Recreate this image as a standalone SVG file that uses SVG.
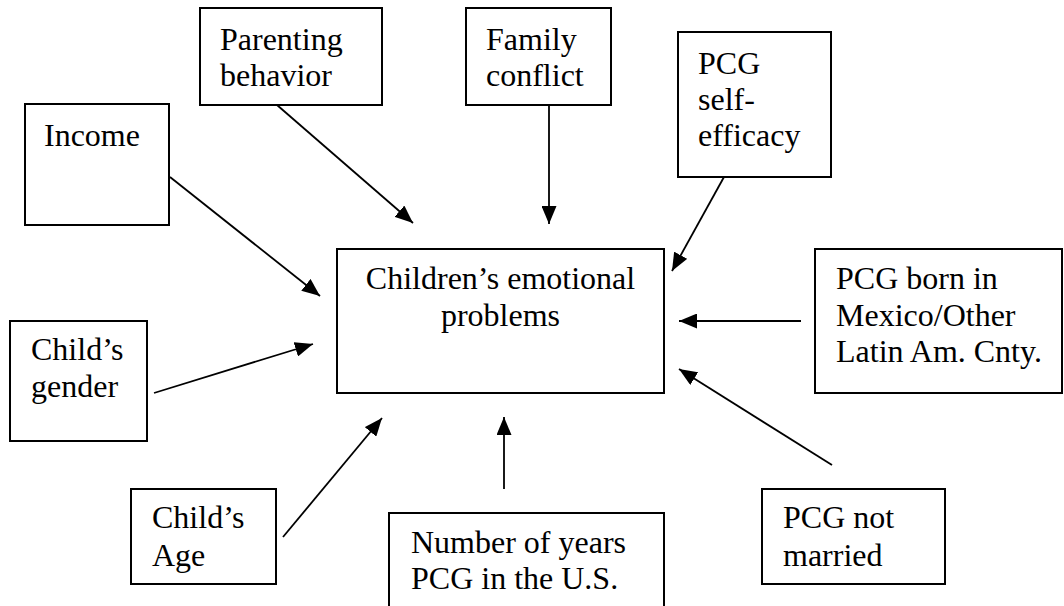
<svg xmlns="http://www.w3.org/2000/svg" width="1064" height="606" viewBox="0 0 1064 606">
<style>
.box{fill:#fff;stroke:#000;stroke-width:2}
.t{font-family:"Liberation Serif","Times New Roman",serif;font-size:32px;fill:#000}
.c{text-anchor:middle}
.edge{stroke:#000;stroke-width:1.8;fill:none;marker-end:url(#ah)}
</style>
<defs>
<marker id="ah" viewBox="0 0 18 15" refX="18" refY="7.5" markerWidth="18" markerHeight="15" markerUnits="userSpaceOnUse" orient="auto">
<path d="M0,0 L18,7.5 L0,15 z" fill="#000"/>
</marker>
</defs>
<rect width="1064" height="606" fill="#fff"/>
<g id="parenting">
<rect class="box" x="200" y="8" width="182" height="97"/>
<text class="t" x="220" y="50">Parenting</text>
<text class="t" x="220" y="86">behavior</text>
</g>
<g id="family">
<rect class="box" x="466" y="8" width="145" height="97"/>
<text class="t" x="486" y="50">Family</text>
<text class="t" x="486" y="86">conflict</text>
</g>
<g id="selfefficacy">
<rect class="box" x="678" y="32" width="153" height="145"/>
<text class="t" x="698" y="74">PCG</text>
<text class="t" x="698" y="110">self-</text>
<text class="t" x="698" y="146">efficacy</text>
</g>
<g id="income">
<rect class="box" x="25" y="104" width="144" height="121"/>
<text class="t" x="44" y="146">Income</text>
</g>
<g id="center">
<rect class="box" x="337" y="249" width="327" height="144"/>
<text class="t c" x="500.5" y="289">Children’s emotional</text>
<text class="t c" x="500.5" y="326">problems</text>
</g>
<g id="mexico">
<rect class="box" x="815" y="249" width="247" height="144"/>
<text class="t" x="836" y="289">PCG born in</text>
<text class="t" x="836" y="326">Mexico/Other</text>
<text class="t" x="836" y="362">Latin Am. Cnty.</text>
</g>
<g id="gender">
<rect class="box" x="10" y="321" width="137" height="120"/>
<text class="t" x="31" y="360">Child’s</text>
<text class="t" x="31" y="397">gender</text>
</g>
<g id="age">
<rect class="box" x="131" y="489" width="145" height="95"/>
<text class="t" x="152" y="528">Child’s</text>
<text class="t" x="152" y="566">Age</text>
</g>
<g id="years">
<rect class="box" x="389" y="513" width="275" height="110"/>
<text class="t" x="411" y="553">Number of years</text>
<text class="t" x="411" y="589">PCG in the U.S.</text>
</g>
<g id="notmarried">
<rect class="box" x="762" y="489" width="183" height="95"/>
<text class="t" x="783" y="528">PCG not</text>
<text class="t" x="783" y="566">married</text>
</g>
<g id="connectors">
<line class="edge" x1="170" y1="177" x2="320" y2="296"/>
<line class="edge" x1="277" y1="105" x2="413" y2="223"/>
<line class="edge" x1="549" y1="105" x2="549" y2="224"/>
<line class="edge" x1="724" y1="177" x2="672" y2="271"/>
<line class="edge" x1="801" y1="321" x2="679" y2="321"/>
<line class="edge" x1="832" y1="465" x2="679" y2="369"/>
<line class="edge" x1="504" y1="489" x2="504" y2="417"/>
<line class="edge" x1="283" y1="537" x2="382" y2="418"/>
<line class="edge" x1="154" y1="393" x2="313" y2="344"/>
</g>
</svg>
